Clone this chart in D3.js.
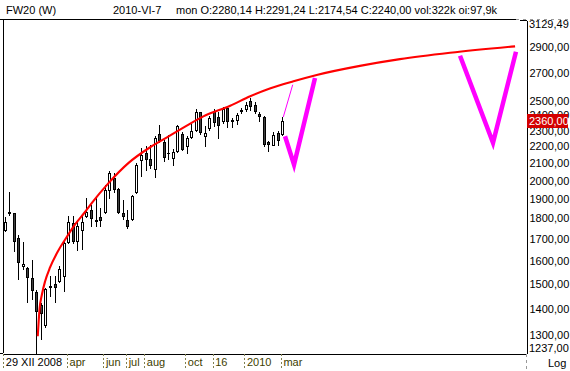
<!DOCTYPE html>
<html><head><meta charset="utf-8">
<script src="https://cdn.jsdelivr.net/npm/d3@7"></script>
<style>
html,body{margin:0;padding:0;background:#fff;}
svg{display:block;}
text{font-family:"Liberation Sans",Arial,sans-serif;font-size:11px;}
</style></head><body>
<svg id="chart" width="570" height="371"></svg>
<script>
// ---- data (weekly candles, index 0 = week of 29 XII 2008) ----
const open  = [1745,1830,1825,1705,1575,1569,1526,1466,1414,1336,1488,1500,1511,1531,1686,1776,1690,1745,1811,1845,1788,1806,1830,1950,2015,1954,1827,1794,1799,1936,2121,2160,2125,2067,2279,2227,2158,2131,2170,2279,2200,2258,2300,2419,2262,2316,2423,2388,2360,2446,2362,2371,2428,2439,2500,2467,2410,2390,2227,2211,2283,2279];
const high  = [1806,1940,1828,1721,1685,1572,1601,1476,1423,1483,1531,1531,1578,1697,1811,1811,1794,1815,1905,1871,1913,1853,1978,2053,2043,1960,1897,1845,1923,2101,2190,2200,2211,2262,2335,2242,2273,2184,2335,2291,2264,2344,2441,2423,2327,2393,2441,2423,2455,2465,2382,2415,2449,2490,2520,2492,2423,2397,2236,2290,2299,2388];
const low   = [1740,1818,1642,1522,1564,1427,1439,1237,1287,1330,1452,1427,1507,1469,1682,1683,1650,1653,1806,1761,1764,1761,1827,1906,1940,1827,1797,1753,1794,1932,2024,2062,2072,2019,2228,2115,2127,2087,2164,2180,2160,2252,2294,2280,2203,2305,2327,2255,2349,2323,2325,2344,2415,2430,2437,2418,2362,2203,2175,2207,2211,2273];
const close = [1783,1826,1690,1593,1587,1530,1476,1389,1384,1479,1492,1488,1564,1682,1784,1690,1761,1782,1832,1803,1791,1790,1950,2043,1954,1835,1810,1761,1917,2091,2150,2125,2091,2252,2242,2135,2162,2164,2327,2184,2255,2299,2419,2291,2283,2382,2356,2334,2441,2360,2366,2404,2432,2467,2465,2426,2394,2215,2217,2273,2242,2360];

// red trend curve (week position, price)
const trendWeek  = [7.2,7.6,8.1,8.8,9.9,11.7,13.6,15.4,17.5,19.1,22.7,27.1,31.9,35.5,39.2,43.6,49.5,53.9,58.2,63.4,68.5,78.0,86.8,97.8,112.1];
const trendPrice = [1296,1400,1455,1510,1570,1645,1710,1770,1830,1880,1985,2100,2195,2255,2318,2392,2464,2530,2585,2638,2685,2754,2806,2856,2908];

// magenta drawings
const guideWeek  = [61.16,63.23];
const guidePrice = [2388,2613];
const vOneWeek   = [61.54,63.52,68.13];
const vOnePrice  = [2263,2091,2663];
const vTwoWeek   = [100,107.25,112.3];
const vTwoPrice  = [2833,2223,2865];

// axes
const xTickWeek   = [0,14,22,27,31,40,46,53,61];
const xTickLabels = ["29 XII 2008","apr","jun","jul","aug","oct","16","2010","mar"];
const yTickValues = [2900,2700,2500,2400,2300,2200,2100,2000,1900,1800,1700,1600,1500,1400,1300];
const yMin = 1237, yMax = 3129.49;
const lastPrice = 2360;
const titleText = "FW20 (W)";
const dateText  = "2010-VI-7";
const infoText  = "mon O:2280,14 H:2291,24 L:2174,54 C:2240,00 vol:322k oi:97,9k";

// ---- drawing ----
const svg = d3.select("#chart");
const L = 3, R = 526, T = 20, B = 353;
const x = d3.scaleLinear().domain([-0.44, 114.5]).range([L, R]);
const y = d3.scaleLog().domain([yMin, yMax]).range([B, T]);
const fmt = v => d3.format(".2f")(v).replace(".", ",");

svg.append("rect").attr("width",570).attr("height",371).attr("fill","#fff");

// header
svg.append("text").attr("x",6).attr("y",14).text(titleText);
svg.append("text").attr("x",113).attr("y",14).text(dateText);
svg.append("text").attr("x",176).attr("y",14).text(infoText);
svg.append("line").attr("x1",0).attr("x2",516).attr("y1",19.5).attr("y2",19.5)
  .attr("stroke","#000").attr("shape-rendering","crispEdges");
svg.append("line").attr("x1",516).attr("x2",570).attr("y1",19.5).attr("y2",19.5)
  .attr("stroke","#999").attr("stroke-dasharray","3,4").attr("shape-rendering","crispEdges");

// left border
svg.append("line").attr("x1",L+0.5).attr("x2",L+0.5).attr("y1",T).attr("y2",B)
  .attr("stroke","#000").attr("shape-rendering","crispEdges");

// x axis
const xAxis = d3.axisBottom(x)
  .tickValues(xTickWeek.map(w => w - 0.37))
  .tickSize(14).tickSizeOuter(0)
  .tickFormat((d,i) => xTickLabels[i]);
const gx = svg.append("g").attr("transform",`translate(0,${B+0.5})`).call(xAxis);
gx.select(".domain").attr("stroke","#000").attr("shape-rendering","crispEdges");
gx.selectAll(".tick line").attr("stroke","#808050").attr("stroke-dasharray","2,2")
  .attr("shape-rendering","crispEdges");
gx.selectAll(".tick text").attr("text-anchor","start").attr("x",2).attr("y",12.5).attr("dy",0)
  .attr("font-family","Liberation Sans, Arial, sans-serif").attr("font-size",11)
  .attr("fill",(d,i) => i === 0 ? "#000" : "#404000");
svg.append("line").attr("x1",0).attr("x2",L).attr("y1",B+0.5).attr("y2",B+0.5).attr("stroke","#000");

// y axis (right)
const yAxis = d3.axisRight(y).tickValues(yTickValues).tickSize(0).tickSizeOuter(0).tickPadding(3).tickFormat(fmt);
const gy = svg.append("g").attr("transform",`translate(${R+0.5},0)`).call(yAxis);
gy.select(".domain").attr("stroke","#000").attr("shape-rendering","crispEdges");
gy.selectAll(".tick text").attr("font-family","Liberation Sans, Arial, sans-serif").attr("font-size",11).attr("fill","#000");
svg.append("line").attr("x1",520).attr("x2",R+1).attr("y1",T+0.5).attr("y2",T+0.5)
  .attr("stroke","#000").attr("shape-rendering","crispEdges");
svg.append("text").attr("x",R+3).attr("y",y(yMax)+8).text(fmt(yMax));
svg.append("text").attr("x",R+3).attr("y",y(yMin)-1).text(fmt(yMin));
svg.append("line").attr("x1",R+0.5).attr("x2",R+0.5).attr("y1",B+1).attr("y2",371)
  .attr("stroke","#999").attr("stroke-dasharray","3,3").attr("shape-rendering","crispEdges");
svg.append("text").attr("x",548).attr("y",367).text("Log");

// candles
const candles = svg.append("g").attr("shape-rendering","crispEdges");
open.forEach((o,i) => {
  const c = close[i];
  const cx = Math.floor(x(i)) + 0.5;
  candles.append("line").attr("x1",cx).attr("x2",cx)
    .attr("y1",Math.round(y(high[i]))).attr("y2",Math.round(y(low[i]))+1)
    .attr("stroke","#000");
  const top = Math.round(y(Math.max(o,c))) + 0.5;
  const bot = Math.round(y(Math.min(o,c))) + 0.5;
  if (bot - top < 1) {
    candles.append("line").attr("x1",cx-1.5).attr("x2",cx+1.5).attr("y1",top).attr("y2",top).attr("stroke","#000");
  } else {
    candles.append("rect").attr("x",cx-1).attr("y",top).attr("width",2).attr("height",bot-top)
      .attr("fill", c >= o ? "#fff" : "#404040").attr("stroke","#000");
  }
});

// red trend curve
const line = d3.line().x(d => x(d[0])).y(d => y(d[1])).curve(d3.curveMonotoneX);
svg.append("path").datum(trendWeek.map((w,i)=>[w,trendPrice[i]]))
  .attr("d",line).attr("fill","none").attr("stroke","#ff0000").attr("stroke-width",2.1);

// magenta drawings
const straight = d3.line().x(d => x(d[0])).y(d => y(d[1]));
svg.append("path").datum(guideWeek.map((w,i)=>[w,guidePrice[i]]))
  .attr("d",straight).attr("fill","none").attr("stroke","#ff00ff").attr("stroke-width",1);
[[vOneWeek,vOnePrice],[vTwoWeek,vTwoPrice]].forEach(([ws,ps]) => {
  svg.append("path").datum(ws.map((w,i)=>[w,ps[i]]))
    .attr("d",straight).attr("fill","none").attr("stroke","#ff00ff")
    .attr("stroke-width",4.5).attr("stroke-linejoin","miter");
});

// last price marker
const yl = y(lastPrice);
svg.append("rect").attr("x",R+1).attr("y",Math.round(yl)-7).attr("width",41).attr("height",14).attr("fill","#d40000");
svg.append("text").attr("x",R+3).attr("y",yl).attr("dy","0.35em").attr("fill","#fff").text(fmt(lastPrice));
</script>
</body></html>
